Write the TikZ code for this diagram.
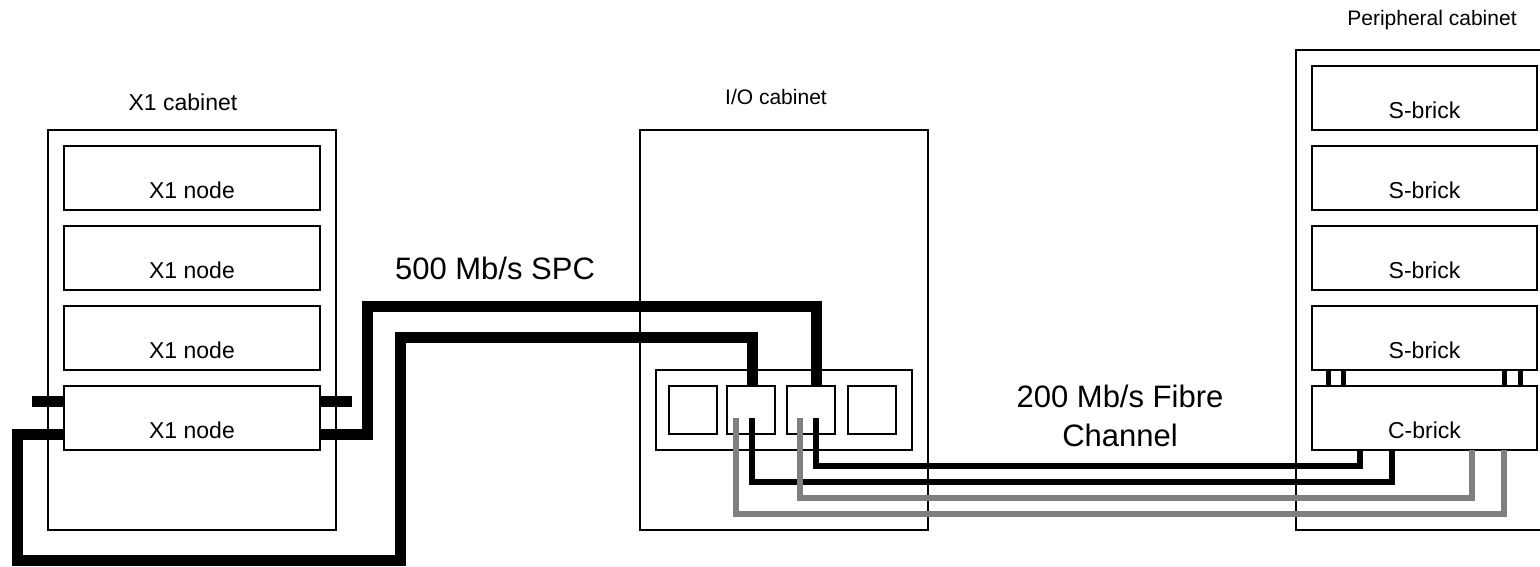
\documentclass[tikz,border=0pt]{standalone}
\usepackage{fontspec}
\setmainfont{Liberation Sans}
\usetikzlibrary{calc}
\definecolor{fibregray}{RGB}{128,128,128}
\newcommand\boxfont{\fontsize{23}{27}\selectfont}
\newcommand\cabfont{\fontsize{21}{25}\selectfont}
\newcommand\bigfont{\fontsize{31}{39}\selectfont}
\tikzset{
  cabinet/.style={draw,line width=2pt,inner sep=0pt,outer sep=0pt},
  brick/.style={draw,line width=2pt,minimum width=#1,minimum height=64pt,inner sep=0pt,outer sep=0pt},
  bricktext/.style={anchor=base,yshift=12pt,font=\boxfont},
  port/.style={draw,line width=2pt,minimum size=48pt,inner sep=0pt,outer sep=0pt},
  spc/.style={line width=11pt},
  fibre/.style={line width=5.5pt},
  stub/.style={line width=5pt}
}
\begin{document}
\begin{tikzpicture}[x=1pt,y=-1pt]
  \clip (0,0) rectangle (1540,566);
  % cabinets
  \node[cabinet,minimum width=288pt,minimum height=400pt] (x1cab) at (192,330) {};
  \node[cabinet,minimum width=288pt,minimum height=400pt] (iocab) at (784,330) {};
  \node[cabinet,minimum width=257pt,minimum height=480pt] (pcab) at (1424.5,290) {};
  \node[font=\boxfont,anchor=base] (x1lab) at (183,110) {X1 cabinet};
  \node[font=\cabfont,anchor=base] (iolab) at (776,104) {I/O cabinet};
  \node[font=\cabfont,anchor=base] (plab) at (1432,25) {Peripheral cabinet};
  % X1 nodes and bricks
  \foreach \i/\y in {1/178,2/258,3/338,4/418}
    \node[brick=256pt,label={[bricktext]south:X1 node}] (n\i) at (192,\y) {};
  \foreach \i/\y in {1/98,2/178,3/258,4/338}
    \node[brick=225pt,label={[bricktext]south:S-brick}] (s\i) at (1424.5,\y) {};
  \node[brick=225pt,label={[bricktext]south:C-brick}] (cb) at (1424.5,418) {};
  \foreach \x in {1328,1343.5,1504,1520}
    \draw[stub] (\x,0 |- s4.south) -- (\x,0 |- cb.north);
  % I/O ports
  \node[cabinet,minimum width=256pt,minimum height=80pt] (pbox) at (784,410) {};
  \foreach \i/\x in {1/693,2/751,3/811,4/872}
    \node[port] (p\i) at (\x,410) {};
  % SPC cables
  \draw[spc] ([yshift=16.5pt]n4.west) -- ++(-32,0);
  \draw[spc] ([yshift=16.5pt]n4.east) -- ++(32,0);
  \draw[spc] ([yshift=-16pt]n4.east) -| (367,306) -| ([xshift=5pt]p3.north);
  \draw[spc] ([yshift=-16pt]n4.west) -| (17,560) -| (400,337.5) -| ([xshift=1pt]p2.north);
  \node[font=\bigfont,anchor=base] (spclab) at (495,279) {500 Mb/s SPC};
  % fibre channel
  \draw[fibre] ($(p3.center)+(5,8)$) |- (1360,466) -- (1360,0 |- cb.south);
  \draw[fibre] ($(p2.center)+(1,8)$) |- (1392,482) -- (1392,0 |- cb.south);
  \draw[fibre,fibregray] ($(p3.center)+(-11,8)$) |- (1472,498) -- (1472,0 |- cb.south);
  \draw[fibre,fibregray] ($(p2.center)+(-15,8)$) |- (1504,514) -- (1504,0 |- cb.south);
  \node[font=\bigfont,anchor=base,align=center] (fclab) at (1120,446) {200 Mb/s Fibre\\Channel};
\end{tikzpicture}
\end{document}
